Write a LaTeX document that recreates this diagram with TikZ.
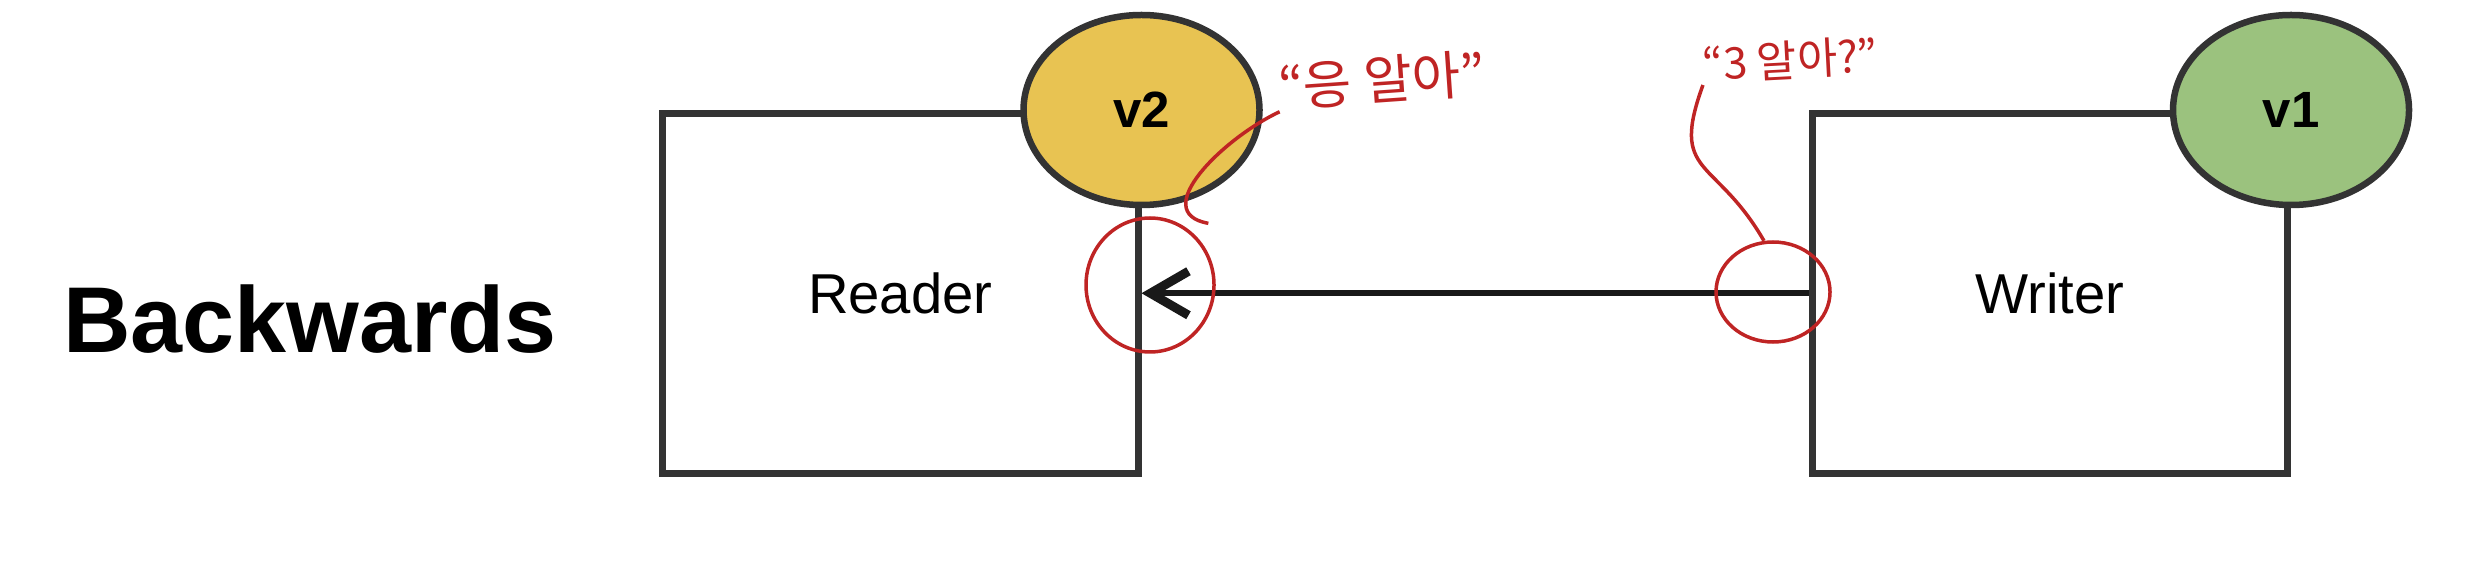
\documentclass[tikz,border=0pt]{standalone}
\usepackage{fontspec}
\setmainfont{Liberation Sans}
\newfontfamily\kofont{Noto Sans CJK KR}
\usetikzlibrary{positioning, shapes.geometric, arrows.meta}
\definecolor{amarelo}{HTML}{E8C352}
\definecolor{verde}{HTML}{9BC27E}
\definecolor{contorno}{HTML}{333333}
\definecolor{caneta}{HTML}{BF2424}

\begin{document}
\begin{tikzpicture}[
    node distance=1cm and 6.67cm,
    caixa/.style={rectangle, draw=contorno, line width=0.07cm, fill=white,
                  minimum width=4.755cm, minimum height=3.595cm,
                  font=\fontsize{16}{19}\selectfont},
    versao/.style={ellipse, draw=contorno, line width=0.065cm, inner sep=0pt,
                   minimum width=2.36cm, minimum height=1.9cm,
                   font=\bfseries\fontsize{14.5}{17}\selectfont},
    seta/.style={-{Straight Barb[length=0.38cm, width=0.44cm, line width=0.09cm]}, line width=0.06cm, black!90},
    nota/.style={inner sep=0pt, text=caneta, font=\kofont\fontsize{15}{18}\selectfont},
    laco/.style={ellipse, draw=caneta, line width=0.035cm, inner sep=0pt},
    traco/.style={draw=caneta, line width=0.035cm}
]
\useasboundingbox (0,0) rectangle (24.72,5.6);

% Titulo
\node[anchor=base, font=\bfseries\fontsize{26.6}{32}\selectfont] (titulo) at (3.10,2.07) {Backwards};

% Caixas
\node[caixa] (reader) at (9.0025,2.6675) {Reader};
\node[caixa, right=of reader] (writer) {Writer};

% Versoes
\node[versao, fill=amarelo] (v2) at (reader.north east) {v2};
\node[versao, fill=verde] (v1) at (writer.north east) {v1};

% Seta
\draw[seta] (writer) -- (reader);

% Anotacoes
\node[nota, rotate=4] (nota1) at (13.82,4.80) {“응 알아”};
\node[nota, rotate=3, font=\kofont\fontsize{12.4}{15}\selectfont] (nota2) at (17.90,5.00) {“3 알아?”};

\node[laco, minimum width=1.28cm, minimum height=1.34cm] (laco1) at (11.50,2.75) {};
\node[laco, minimum width=1.14cm, minimum height=1.0cm] (laco2) at (17.73,2.68) {};

\draw[traco] (nota1.south west) to[out=205, in=170, looseness=1.2] ([xshift=1.5mm, yshift=1mm]laco1.50);
\draw[traco] (nota2.south west) to[out=250, in=120, looseness=1.5] (laco2.100);

\end{tikzpicture}
\end{document}
